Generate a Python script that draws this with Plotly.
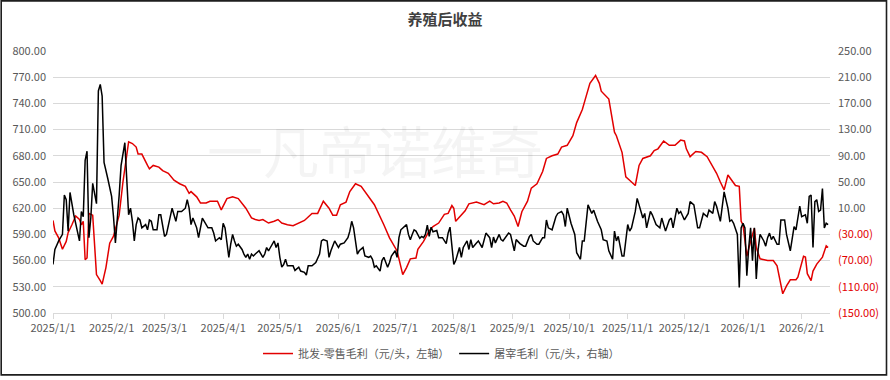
import plotly.graph_objects as go

# ---------------- data ----------------
red_dates = [
"2025-01-01","2025-01-02","2025-01-04","2025-01-06","2025-01-08","2025-01-09","2025-01-11","2025-01-13",
"2025-01-15","2025-01-16","2025-01-17","2025-01-18","2025-01-19","2025-01-20","2025-01-22","2025-01-23",
"2025-01-24","2025-01-26","2025-01-27","2025-01-29","2025-01-31","2025-02-02","2025-02-05","2025-02-07",
"2025-02-10","2025-02-12","2025-02-14","2025-02-15","2025-02-17","2025-02-20","2025-02-21","2025-02-23",
"2025-02-26","2025-02-28","2025-03-03","2025-03-06","2025-03-09","2025-03-12","2025-03-14","2025-03-15",
"2025-03-18","2025-03-20","2025-03-23","2025-03-25","2025-03-29","2025-03-31","2025-04-03","2025-04-06",
"2025-04-09","2025-04-13","2025-04-16","2025-04-18","2025-04-20","2025-04-22","2025-04-25","2025-04-28",
"2025-04-30","2025-05-02","2025-05-05","2025-05-08","2025-05-11","2025-05-14","2025-05-18","2025-05-21",
"2025-05-24","2025-05-27","2025-05-29","2025-05-31","2025-06-02","2025-06-05","2025-06-07","2025-06-10",
"2025-06-13","2025-06-17","2025-06-20","2025-06-25","2025-06-28","2025-07-02","2025-07-05","2025-07-07",
"2025-07-09","2025-07-12","2025-07-13","2025-07-16","2025-07-19","2025-07-21","2025-07-24","2025-07-27",
"2025-07-29","2025-07-31","2025-08-01","2025-08-02","2025-08-05","2025-08-07","2025-08-09","2025-08-13",
"2025-08-17","2025-08-20","2025-08-22","2025-08-25","2025-08-27","2025-08-29","2025-08-31","2025-09-02",
"2025-09-04","2025-09-06","2025-09-09","2025-09-11","2025-09-14","2025-09-17","2025-09-19","2025-09-22",
"2025-09-25","2025-09-27","2025-09-30","2025-10-03","2025-10-05","2025-10-08","2025-10-10","2025-10-12",
"2025-10-15","2025-10-17","2025-10-18","2025-10-22","2025-10-25","2025-10-26","2025-10-29","2025-10-31",
"2025-11-02","2025-11-05","2025-11-07","2025-11-09","2025-11-13","2025-11-15","2025-11-17","2025-11-20",
"2025-11-23","2025-11-26","2025-11-29","2025-12-01","2025-12-02","2025-12-04","2025-12-07","2025-12-10",
"2025-12-13","2025-12-16","2025-12-18","2025-12-20","2025-12-22","2025-12-24","2025-12-26","2025-12-28",
"2025-12-30","2025-12-31","2026-01-01","2026-01-03","2026-01-05","2026-01-07","2026-01-08","2026-01-10",
"2026-01-14","2026-01-17","2026-01-19","2026-01-21","2026-01-22","2026-01-24","2026-01-26","2026-01-29",
"2026-01-30","2026-02-02","2026-02-03","2026-02-04","2026-02-06","2026-02-07","2026-02-09","2026-02-12",
"2026-02-14","2026-02-15",
]
red_values = [
606,594,586,573,582,592,601,611,
607,601,605,561,563,614,612,582,
544,537,533,552,580,588,612,650,
696,694,690,682,682,669,665,669,
667,663,660,652,648,645,637,639,
633,626,626,628,628,618,631,633,
631,620,609,607,606,607,603,605,
607,603,601,600,603,606,614,614,
628,620,612,612,624,627,639,648,
645,633,624,601,586,571,544,552,
562,563,573,582,594,599,603,613,
614,623,620,605,612,617,625,627,
624,628,625,626,628,626,618,611,
599,616,628,643,648,662,677,680,
682,690,692,703,718,733,748,763,
772,763,754,745,707,703,684,656,
652,646,669,677,680,686,688,697,
692,692,698,697,688,679,685,684,
679,667,660,650,641,658,652,646,
645,605,601,565,582,597,575,562,
560,560,554,535,522,531,538,538,
541,565,564,545,537,548,556,564,
577,575,
]

black_dates = [
"2025-01-01","2025-01-02","2025-01-04","2025-01-06","2025-01-07","2025-01-08","2025-01-09","2025-01-10",
"2025-01-12","2025-01-13","2025-01-14","2025-01-15","2025-01-16","2025-01-17","2025-01-18","2025-01-19",
"2025-01-20","2025-01-21","2025-01-22","2025-01-23","2025-01-24","2025-01-25","2025-01-26","2025-01-27",
"2025-01-28","2025-01-30","2025-02-01","2025-02-02","2025-02-03","2025-02-05","2025-02-06","2025-02-08",
"2025-02-10","2025-02-11","2025-02-12","2025-02-13","2025-02-14","2025-02-15","2025-02-16","2025-02-17",
"2025-02-18","2025-02-19","2025-02-20","2025-02-21","2025-02-22","2025-02-23","2025-02-25","2025-02-26",
"2025-02-27","2025-03-01","2025-03-02","2025-03-04","2025-03-05","2025-03-07","2025-03-08","2025-03-10",
"2025-03-12","2025-03-13","2025-03-14","2025-03-15","2025-03-16","2025-03-18","2025-03-19","2025-03-21",
"2025-03-23","2025-03-24","2025-03-26","2025-03-27","2025-03-28","2025-03-30","2025-03-31","2025-04-01",
"2025-04-02","2025-04-03","2025-04-04","2025-04-05","2025-04-06","2025-04-07","2025-04-08","2025-04-09",
"2025-04-11","2025-04-12","2025-04-13","2025-04-14","2025-04-15","2025-04-16","2025-04-17","2025-04-18",
"2025-04-20","2025-04-22","2025-04-23","2025-04-24","2025-04-25","2025-04-26","2025-04-28","2025-04-29",
"2025-04-30","2025-05-01","2025-05-02","2025-05-03","2025-05-04","2025-05-05","2025-05-06","2025-05-08",
"2025-05-09","2025-05-11","2025-05-12","2025-05-14","2025-05-15","2025-05-16","2025-05-18","2025-05-19",
"2025-05-20","2025-05-22","2025-05-23","2025-05-24","2025-05-26","2025-05-27","2025-05-28","2025-05-30",
"2025-06-01","2025-06-02","2025-06-04","2025-06-06","2025-06-07","2025-06-08","2025-06-09","2025-06-11",
"2025-06-12","2025-06-14","2025-06-15","2025-06-17","2025-06-18","2025-06-19","2025-06-20","2025-06-21",
"2025-06-23","2025-06-24","2025-06-25","2025-06-27","2025-06-28","2025-06-29","2025-07-01","2025-07-02",
"2025-07-03","2025-07-04","2025-07-05","2025-07-07","2025-07-08","2025-07-09","2025-07-10","2025-07-11",
"2025-07-12","2025-07-14","2025-07-15","2025-07-16","2025-07-17","2025-07-18","2025-07-19","2025-07-20",
"2025-07-21","2025-07-23","2025-07-24","2025-07-26","2025-07-28","2025-07-29","2025-07-30","2025-08-01",
"2025-08-02","2025-08-04","2025-08-05","2025-08-06","2025-08-08","2025-08-09","2025-08-10","2025-08-11",
"2025-08-13","2025-08-14","2025-08-16","2025-08-17","2025-08-18","2025-08-20","2025-08-21","2025-08-22",
"2025-08-23","2025-08-25","2025-08-26","2025-08-27","2025-08-29","2025-08-30","2025-08-31","2025-09-02",
"2025-09-03","2025-09-05","2025-09-07","2025-09-08","2025-09-10","2025-09-11","2025-09-12","2025-09-14",
"2025-09-15","2025-09-17","2025-09-18","2025-09-19","2025-09-20","2025-09-22","2025-09-24","2025-09-25",
"2025-09-27","2025-09-28","2025-09-29","2025-09-30","2025-10-02","2025-10-04","2025-10-05","2025-10-07",
"2025-10-08","2025-10-09","2025-10-11","2025-10-13","2025-10-14","2025-10-16","2025-10-18","2025-10-19",
"2025-10-21","2025-10-22","2025-10-24","2025-10-25","2025-10-26","2025-10-27","2025-10-29","2025-10-30",
"2025-11-01","2025-11-02","2025-11-03","2025-11-05","2025-11-06","2025-11-08","2025-11-09","2025-11-10",
"2025-11-11","2025-11-13","2025-11-14","2025-11-16","2025-11-18","2025-11-19","2025-11-21","2025-11-23",
"2025-11-24","2025-11-25","2025-11-27","2025-11-28","2025-11-29","2025-12-01","2025-12-03","2025-12-04",
"2025-12-06","2025-12-08","2025-12-09","2025-12-11","2025-12-13","2025-12-14","2025-12-16","2025-12-17",
"2025-12-18","2025-12-20","2025-12-21","2025-12-22","2025-12-24","2025-12-25","2025-12-26","2025-12-27",
"2025-12-29","2025-12-30","2025-12-31","2026-01-01","2026-01-02","2026-01-03","2026-01-04","2026-01-05",
"2026-01-06","2026-01-07","2026-01-08","2026-01-09","2026-01-10","2026-01-12","2026-01-13","2026-01-14",
"2026-01-15","2026-01-16","2026-01-17","2026-01-19","2026-01-20","2026-01-21","2026-01-23","2026-01-24",
"2026-01-26","2026-01-27","2026-01-28","2026-01-29","2026-01-31","2026-02-01","2026-02-03","2026-02-04",
"2026-02-05","2026-02-06","2026-02-07","2026-02-08","2026-02-09","2026-02-10","2026-02-11","2026-02-12",
"2026-02-13","2026-02-14","2026-02-15",
]
black_values = [
-76,-53,-40,-30,30,23,-25,34,
0,-15,-28,-40,5,-3,83,97,
-35,-5,48,30,17,189,199,181,
80,55,28,-3,-43,30,75,110,
0,10,-10,-40,-15,-5,-8,-20,
-18,-15,-23,-8,-10,-23,-23,0,
0,-33,-30,-5,10,-10,5,5,
10,23,10,-15,-5,-20,-35,-5,
-15,-20,-20,-28,-40,-35,-38,-13,
-20,-40,-65,-45,-30,-40,-48,-45,
-53,-60,-65,-60,-68,-60,-63,-60,
-55,-65,-60,-50,-55,-50,-40,-50,
-43,-65,-80,-76,-68,-78,-78,-78,
-85,-80,-86,-88,-92,-78,-78,-76,
-73,-60,-40,-38,-40,-65,-55,-40,
-50,-45,-43,-35,-25,-10,-20,-60,
-55,-50,-63,-65,-63,-68,-80,-78,
-86,-70,-65,-80,-73,-63,-55,-65,
-35,-23,-20,-15,-30,-38,-30,-23,
-25,-36,-33,-35,-30,-16,-33,-19,
-26,-24,-35,-35,-44,-28,-19,-76,
-70,-50,-65,-50,-40,-53,-38,-50,
-43,-40,-50,-40,-28,-35,-50,-34,
-43,-30,-38,-40,-33,-28,-30,-55,
-38,-44,-48,-48,-33,-30,-40,-45,
-45,-35,-35,-8,-20,-23,-3,2,
5,0,-18,10,-13,-30,-58,-68,
-40,-40,15,2,7,-10,-23,-38,
-40,-55,-68,-25,-40,-33,-63,-63,
-15,-25,-20,5,25,7,-5,2,
-20,5,0,-15,-20,-5,-25,-8,
-5,-20,10,2,5,-8,2,20,
15,-20,-20,2,-3,7,2,20,
13,-10,15,35,10,-10,-8,-13,
-30,-111,-20,-13,-20,-93,-50,-20,
-70,-20,-98,-53,-30,-40,-48,-35,
-28,-38,-33,-45,-45,-8,-8,-30,
-55,-33,-18,-23,13,-3,0,-13,
28,30,-50,20,23,5,7,40,
-20,-13,-15,
]

left_ticks = [500, 530, 560, 590, 620, 650, 680, 710, 740, 770, 800]
right_ticks = [-150, -110, -70, -30, 10, 50, 90, 130, 170, 210, 250]

series_names = ["批发-零售毛利（元/头，左轴）", "屠宰毛利（元/头，右轴）"]
title_text = "养殖后收益"
watermark = "一凡帝诺维奇"

# ---------------- figure ----------------
RED = "#e20000"
GRAY_TXT = "#595959"
GRID = "#d9d9d9"
FONT = "Noto Sans CJK SC"

fig = go.Figure()
fig.add_trace(go.Scatter(x=red_dates, y=red_values, mode="lines", name=series_names[0],
                         line=dict(color=RED, width=1.5), yaxis="y"))
fig.add_trace(go.Scatter(x=black_dates, y=black_values, mode="lines", name=series_names[1],
                         line=dict(color="#000000", width=1.5), yaxis="y2"))

left_text = [f"{v:.2f}" for v in left_ticks]
right_text = [f"{v:.2f}" if v >= 0 else f"<span style='color:{RED}'>({abs(v):.2f})</span>"
              for v in right_ticks]

W, H = 890, 380
ml, mr, mt, mb = 53, 60, 51, 64
pw, ph = W - ml - mr, H - mt - mb

def px_x(p):
    return (p - ml) / pw

def px_y(p):
    return 1 - (p - mt) / ph

fig.update_layout(
    width=W, height=H,
    margin=dict(l=ml, r=mr, t=mt, b=mb),
    paper_bgcolor="white", plot_bgcolor="white",
    font=dict(family=FONT, size=11, color=GRAY_TXT),
    title=dict(text=title_text, x=0.5, xanchor="center", y=1 - 20 / H, yanchor="middle",
               font=dict(family=FONT, size=15, color="#404040", weight="bold")),
    showlegend=True,
    legend=dict(orientation="h", x=0.5, xanchor="center", y=px_y(357), yanchor="middle",
                font=dict(size=11, color=GRAY_TXT), itemwidth=30, bgcolor="rgba(0,0,0,0)"),
    xaxis=dict(type="date", range=["2025-01-01", "2026-02-16"], tick0="2025-01-01", dtick="M1",
               tickformat="%Y/%-m/%-d", showgrid=False, showline=True, linecolor=GRID,
               ticks="outside", ticklen=5, tickcolor=GRID, zeroline=False,
               tickfont=dict(size=11, color=GRAY_TXT)),
    yaxis=dict(range=[500, 800], tickvals=left_ticks, ticktext=left_text, showgrid=True,
               gridcolor=GRID, gridwidth=1, zeroline=False, showline=False, ticks="",
               ticklabelstandoff=6, tickfont=dict(size=11, color=GRAY_TXT)),
    yaxis2=dict(range=[-150, 250], tickvals=right_ticks, ticktext=right_text, overlaying="y",
                side="right", showgrid=False, zeroline=False, showline=False, ticks="",
                ticklabelstandoff=7, tickfont=dict(size=11, color=GRAY_TXT)),
    annotations=[dict(text=watermark, x=px_x(375), y=px_y(150), xref="paper", yref="paper",
                      showarrow=False, font=dict(family=FONT, size=56, color="rgba(0,0,0,0.045)"))],
    shapes=[dict(type="rect", xref="paper", yref="paper",
                 x0=px_x(1.2), x1=px_x(886.5), y0=px_y(378.6), y1=px_y(0.3),
                 line=dict(color="#1e1e1e", width=1.6), layer="above")],
)

fig.write_html("out.html", config={"displayModeBar": False},
               post_script="document.body.style.margin='0';document.body.style.overflow='hidden';")
